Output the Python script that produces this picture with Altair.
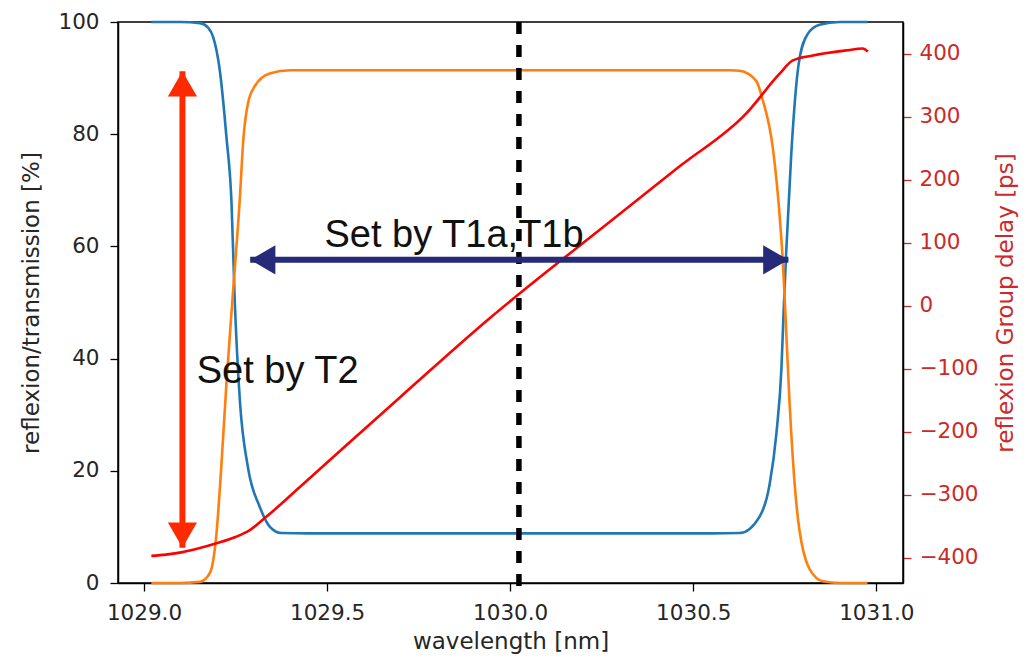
import altair as alt
import pandas as pd

# ---------------- data ----------------
wl_T = [1029.02, 1029.10, 1029.153, 1029.175, 1029.189, 1029.207, 1029.225, 1029.239, 1029.248,
        1029.262, 1029.284, 1029.316, 1029.344, 1029.375, 1029.45, 1030.0, 1030.55, 1030.627,
        1030.681, 1030.709, 1030.727, 1030.741, 1030.748, 1030.754, 1030.768, 1030.788, 1030.812,
        1030.845, 1030.90, 1030.976]
transmission = [100, 100, 99.8, 99.0, 97.3, 91.4, 79.6, 67.8, 50.1,
                32.4, 20.6, 13.6, 10.0, 8.9, 8.85, 8.85, 8.85, 8.9,
                11.8, 17.7, 26.5, 38.3, 50.1, 59.0, 76.7, 92.5, 97.8,
                99.5, 100, 100]

wl_R = [1029.02, 1029.10, 1029.153, 1029.18, 1029.198, 1029.211, 1029.225, 1029.241, 1029.261,
        1029.272, 1029.284, 1029.302, 1029.343, 1029.40, 1030.0, 1030.60, 1030.627, 1030.672,
        1030.69, 1030.718, 1030.736, 1030.745, 1030.75, 1030.763, 1030.777, 1030.80, 1030.836,
        1030.854, 1030.90, 1030.976]
reflexion = [0, 0, 0.2, 1.8, 8.85, 20.6, 35.4, 50.0, 67.8,
             79.6, 85.5, 88.5, 90.8, 91.4, 91.4, 91.4, 91.3, 89.5,
             86.1, 77.3, 65.5, 57.0, 50.5, 32.4, 17.7, 5.9, 0.9,
             0.3, 0, 0]

wl_GD = [1029.02, 1029.06, 1029.106, 1029.15, 1029.198, 1029.25, 1029.289, 1029.334, 1029.425,
         1029.698, 1029.944, 1030.281, 1030.463, 1030.645, 1030.736, 1030.772, 1030.827,
         1030.918, 1030.963, 1030.977]
group_delay = [-397, -395, -391, -385, -377, -367, -356, -335, -288,
               -146, -20, 137, 221, 305, 368, 389, 397,
               405, 408, 403]

x_ticks = [1029.0, 1029.5, 1030.0, 1030.5, 1031.0]
left_ticks = [0, 20, 40, 60, 80, 100]
right_ticks = [-400, -300, -200, -100, 0, 100, 200, 300, 400]

x_domain = [1028.929, 1031.073]
left_domain = [0, 100]
right_domain = [-440, 450]

# annotations (data units)
marker_wl = [1030.024]
marker_top = [100]
marker_bottom = [-2]
t2_arrow_wl = [1029.105]
t2_arrow_top = [91.2]
t2_arrow_bottom = [6.3]
t1_arrow_left = [1029.29]
t1_arrow_right = [1030.76]
t1_arrow_level = [57.6]
label_texts = ["Set by T1a,T1b", "Set by T2"]
label_wl = [1029.493, 1029.144]
label_val = [59.9, 35.6]

# ---------------- styling ----------------
TICK_FONT = 21.5
TITLE_FONT = 23
TXT = "#262626"
GD_COLOR = "#cc2a2a"

xscale = alt.Scale(domain=x_domain, nice=False, zero=False)
xaxis = alt.Axis(values=x_ticks, format=".1f", title="wavelength [nm]",
                 labelFont="DejaVu Sans", labelFontSize=TICK_FONT, labelColor=TXT,
                 titleFont="DejaVu Sans", titleFontSize=TITLE_FONT, titleFontWeight="normal",
                 titleColor=TXT, tickSize=8, tickWidth=1.3, tickColor="black",
                 domainColor="black", domainWidth=1.5, labelPadding=11, titlePadding=7,
                 grid=False, labelFlush=False)

left_scale = alt.Scale(domain=left_domain, nice=False, zero=False)
left_axis = alt.Axis(values=left_ticks, format="d", title="reflexion/transmission [%]",
                     labelFont="DejaVu Sans", labelFontSize=TICK_FONT, labelColor=TXT,
                     titleFont="DejaVu Sans", titleFontSize=TITLE_FONT, titleFontWeight="normal",
                     titleColor=TXT, tickSize=8, tickWidth=1.3, tickColor="black",
                     domainColor="black", domainWidth=1.5, labelPadding=11, titlePadding=14,
                     grid=False, labelFlush=False)

right_scale = alt.Scale(domain=right_domain, nice=False, zero=False)
right_axis = alt.Axis(orient="right", values=right_ticks, format="d",
                      title="reflexion Group delay [ps]",
                      labelFont="DejaVu Sans", labelFontSize=TICK_FONT, labelColor=GD_COLOR,
                      titleFont="DejaVu Sans", titleFontSize=TITLE_FONT, titleFontWeight="normal",
                      titleColor=GD_COLOR, titleAngle=270, titleBaseline="top",
                      tickSize=8, tickWidth=1.3, tickColor=GD_COLOR,
                      domainColor="black", domainWidth=1.5, labelPadding=8, titlePadding=16,
                      grid=False, labelFlush=False)

df_T = pd.DataFrame({"x": wl_T, "v": transmission})
df_R = pd.DataFrame({"x": wl_R, "v": reflexion})
df_GD = pd.DataFrame({"x": wl_GD, "v": group_delay})

X = alt.X("x:Q", scale=xscale, axis=xaxis)
YL = alt.Y("v:Q", scale=left_scale, axis=left_axis)

blue = alt.Chart(df_T).mark_line(color="#1f77b4", strokeWidth=2.6, interpolate="monotone").encode(x=X, y=YL)
orange = alt.Chart(df_R).mark_line(color="#ff7f0e", strokeWidth=2.6, interpolate="monotone").encode(x=X, y=YL)
left_group = alt.layer(blue, orange)

red = alt.Chart(df_GD).mark_line(color="#ff0000", strokeWidth=2.6, interpolate="monotone").encode(
    x=X, y=alt.Y("v:Q", scale=right_scale, axis=right_axis))

# ---- annotation layers (own y scale, same domain as left, no axis) ----
ann_scale = alt.Scale(domain=left_domain, nice=False, zero=False)
XA = alt.X("x:Q", scale=xscale, axis=xaxis)

def ya(field):
    return alt.Y(field, type="quantitative", scale=ann_scale, axis=None)

marker = alt.Chart(pd.DataFrame({"x": marker_wl, "y": marker_top, "y2": marker_bottom})).mark_rule(
    color="black", strokeWidth=5.5, strokeDash=[12, 11]).encode(x=XA, y=ya("y"), y2="y2:Q")

RED_ARROW = "#ff2a00"
NAVY = "#272a78"
HEAD = 850
TIP = 12.6

t2_line = alt.Chart(pd.DataFrame({"x": t2_arrow_wl, "y": t2_arrow_top, "y2": t2_arrow_bottom})).mark_rule(
    color=RED_ARROW, strokeWidth=6).encode(x=XA, y=ya("y"), y2="y2:Q")
t2_head_up = alt.Chart(pd.DataFrame({"x": t2_arrow_wl, "y": t2_arrow_top})).mark_point(
    shape="triangle-up", filled=True, size=HEAD, color=RED_ARROW, opacity=1, yOffset=TIP).encode(x=XA, y=ya("y"))
t2_head_down = alt.Chart(pd.DataFrame({"x": t2_arrow_wl, "y": t2_arrow_bottom})).mark_point(
    shape="triangle-down", filled=True, size=HEAD, color=RED_ARROW, opacity=1, yOffset=-TIP).encode(x=XA, y=ya("y"))

t1_line = alt.Chart(pd.DataFrame({"x": t1_arrow_left, "x2": t1_arrow_right, "y": t1_arrow_level})).mark_rule(
    color=NAVY, strokeWidth=6).encode(x=XA, x2="x2:Q", y=ya("y"))
t1_head_left = alt.Chart(pd.DataFrame({"x": t1_arrow_left, "y": t1_arrow_level})).mark_point(
    shape="triangle-left", filled=True, size=HEAD, color=NAVY, opacity=1, xOffset=TIP).encode(x=XA, y=ya("y"))
t1_head_right = alt.Chart(pd.DataFrame({"x": t1_arrow_right, "y": t1_arrow_level})).mark_point(
    shape="triangle-right", filled=True, size=HEAD, color=NAVY, opacity=1, xOffset=-TIP).encode(x=XA, y=ya("y"))

labels = alt.Chart(pd.DataFrame({"x": label_wl, "y": label_val, "t": label_texts})).mark_text(
    align="left", baseline="alphabetic", font="Liberation Sans", fontSize=38, color="#111111").encode(
    x=XA, y=ya("y"), text="t:N")

ann_group = alt.layer(marker, t2_line, t2_head_up, t2_head_down, t1_line, t1_head_left, t1_head_right, labels)

chart = alt.layer(left_group, red, ann_group).resolve_scale(y="independent").properties(
    width=785, height=561,
    padding={"left": 110, "top": 14, "right": 118, "bottom": 73},
    autosize=alt.AutoSizeParams(type="none"),
).configure_view(stroke="black", strokeWidth=1.5)

chart.save("out.html", embed_options={"renderer": "svg", "actions": False})
